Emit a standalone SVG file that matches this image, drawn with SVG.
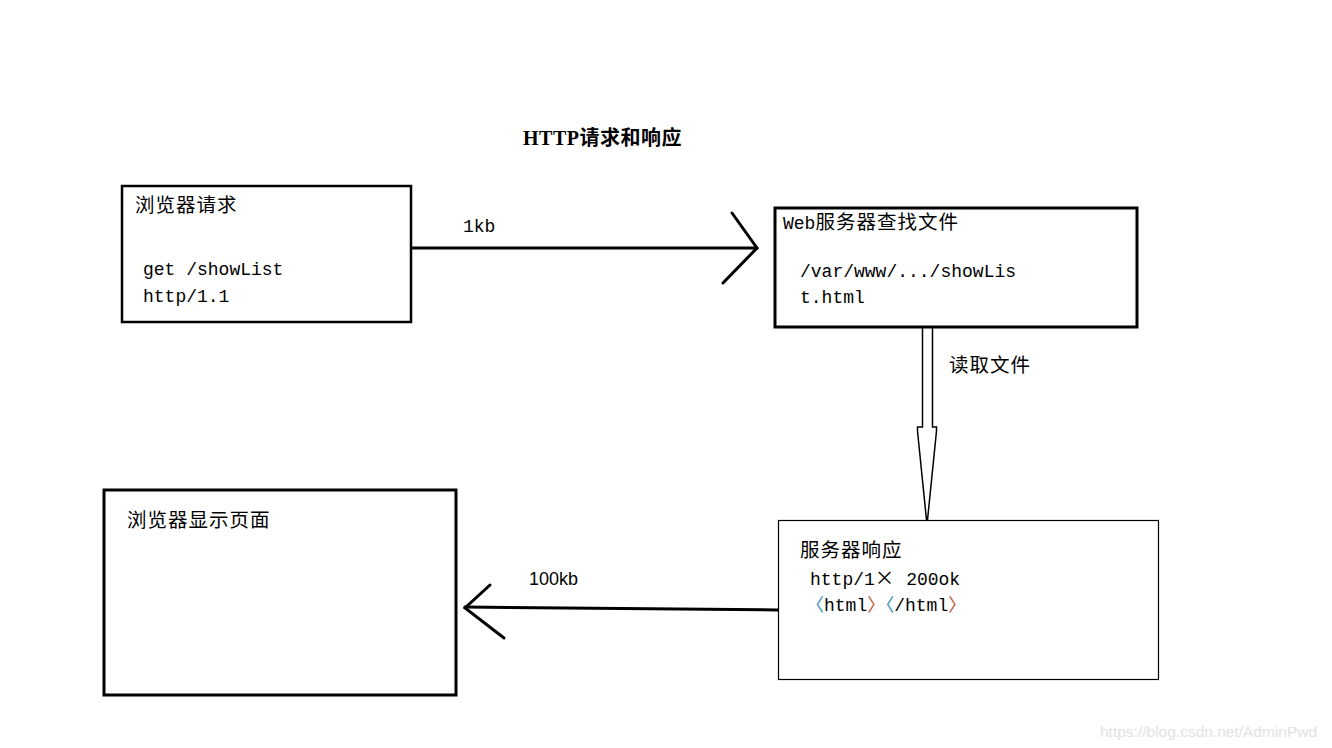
<svg xmlns="http://www.w3.org/2000/svg" width="1332" height="748" viewBox="0 0 1332 748">
<style>
.box{fill:#fff;stroke:#000}
.cn{font-family:"Noto Sans CJK SC","Noto Sans",sans-serif;font-size:19.5px;letter-spacing:1px;fill:#000}
.mono{font-family:"Liberation Mono","DejaVu Sans Mono","Noto Sans CJK SC",monospace;font-size:18px;letter-spacing:0;fill:#000}
.line{stroke:#000;fill:none;stroke-linecap:round}
.lb{fill:#2f8fb5}
.rb{fill:#c0502a}
</style>
<rect width="1332" height="748" fill="#fff"/>
<text x="523" y="145" font-family="Liberation Serif,'Noto Sans CJK SC',serif" font-size="20" font-weight="bold" letter-spacing="0.5">HTTP请求和响应</text>

<g id="connectors">
<line class="line" x1="411" y1="248" x2="757" y2="248" stroke-width="3"/>
<polyline class="line" points="732,213 757,248 723,283" stroke-width="3"/>
<text class="mono" x="463" y="232">1kb</text>
<path d="M922.5,327 V427 H917.5 V431 L927,525 L936.5,431 V427 H932.5 V327" fill="#fff" stroke="#000" stroke-width="1.5"/>
<text class="cn" x="949" y="372">读取文件</text>
<line class="line" x1="465" y1="607" x2="778" y2="610" stroke-width="3"/>
<polyline class="line" points="490,585 465,608 504,638" stroke-width="3"/>
<text x="529" y="585" font-family="Liberation Sans,Arial,sans-serif" font-size="18">100kb</text>
</g>

<g id="browser-request">
<rect class="box" x="122" y="186" width="289" height="136" stroke-width="2.5"/>
<text class="cn" x="135" y="212">浏览器请求</text>
<text class="mono" x="143" y="275">get /showList</text>
<text class="mono" x="143" y="302">http/1.1</text>
</g>

<g id="web-server">
<rect class="box" x="775" y="208" width="362" height="119" stroke-width="3"/>
<text x="783" y="229"><tspan class="mono">Web</tspan><tspan class="cn">服务器查找文件</tspan></text>
<text class="mono" x="800" y="277">/var/www/.../showLis</text>
<text class="mono" x="800" y="303">t.html</text>
</g>

<g id="server-response">
<rect class="box" x="778.5" y="520.5" width="380" height="159" stroke-width="1.2"/>
<text class="cn" x="800" y="557">服务器响应</text>
<text x="810" y="585"><tspan class="mono">http/1</tspan><tspan class="cn">×</tspan><tspan class="mono"> 200ok</tspan></text>
<text class="mono" x="806" y="611"><tspan class="lb">〈</tspan>html<tspan class="rb">〉</tspan><tspan class="lb">〈</tspan>/html<tspan class="rb">〉</tspan></text>
</g>

<g id="browser-display">
<rect class="box" x="104" y="490" width="352" height="205" stroke-width="3"/>
<text class="cn" x="127" y="527">浏览器显示页面</text>
</g>

<text x="1100" y="737" font-family="Liberation Sans,Arial,sans-serif" font-size="15.5" fill="#e2e2e2">https://blog.csdn.net/AdminPwd</text>
</svg>
